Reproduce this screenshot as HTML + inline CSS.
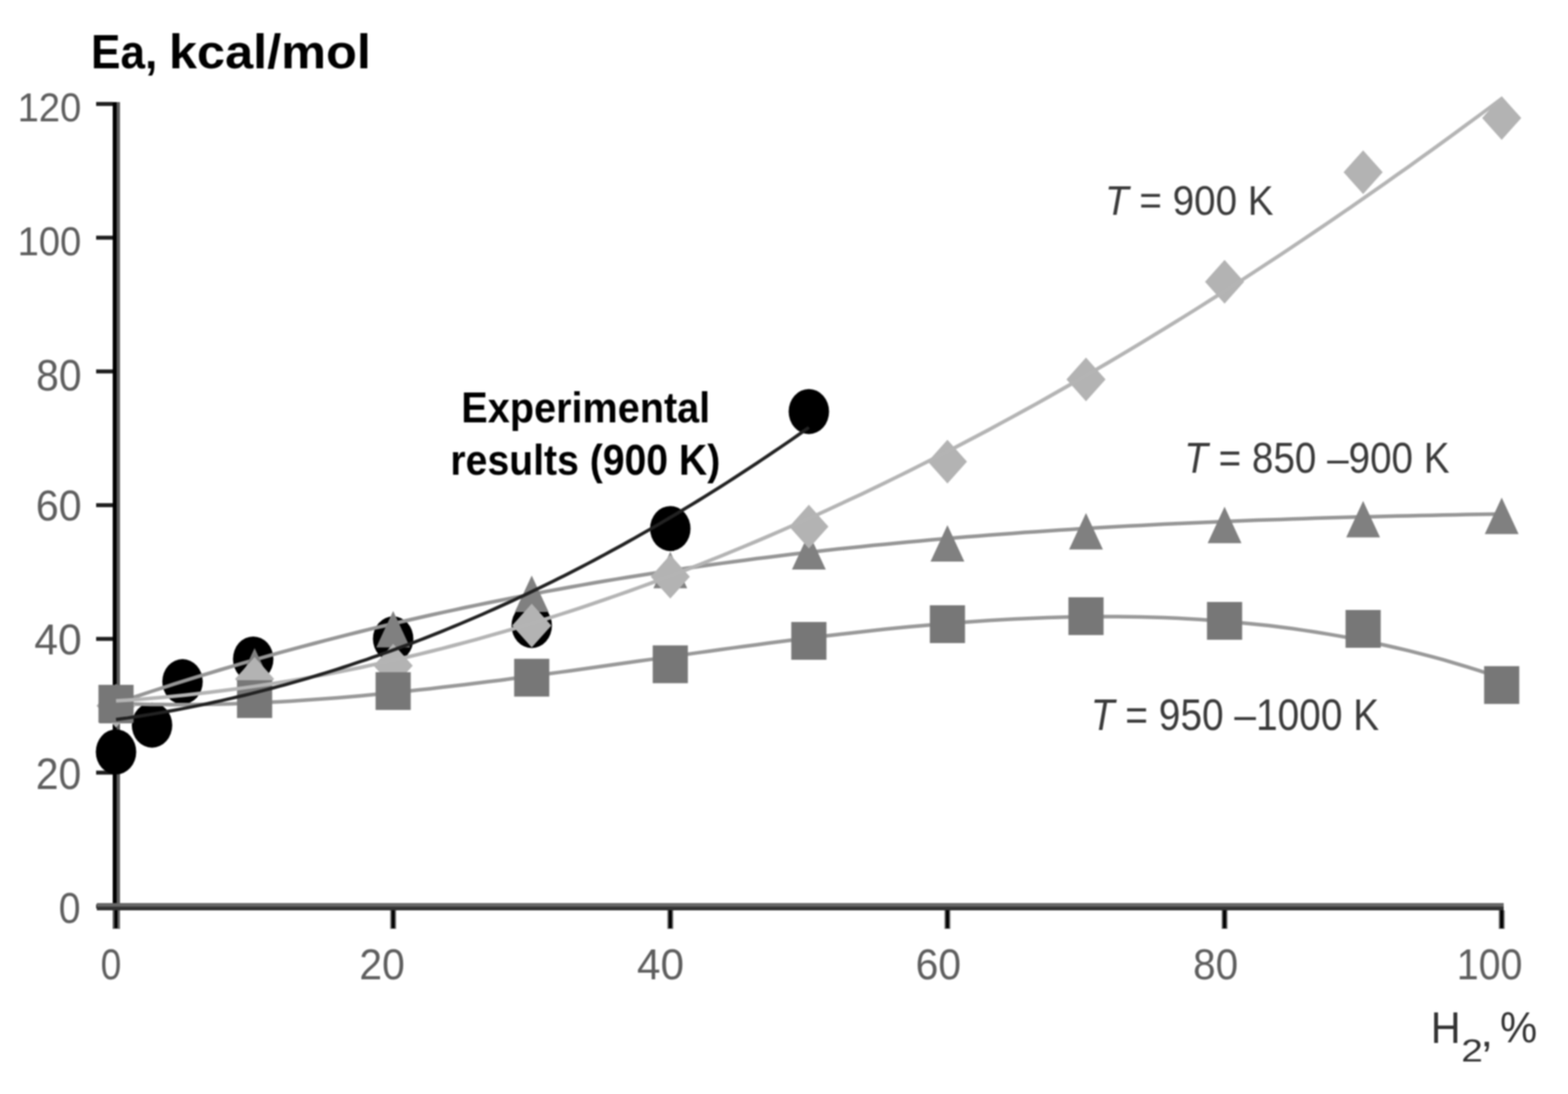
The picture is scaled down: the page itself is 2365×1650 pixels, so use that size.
<!DOCTYPE html>
<html><head><meta charset="utf-8"><title>Ea vs H2</title>
<style>html,body{margin:0;padding:0;background:#fff;} svg{display:block;filter:blur(1.2px);}</style></head>
<body><svg width="2365" height="1650" viewBox="0 0 2365 1650">
<rect width="2365" height="1650" fill="#fff"/>
<rect x="176" y="154" width="5" height="1247" fill="#5c5c5c"/>
<rect x="170" y="154" width="6" height="1247" fill="#000"/>
<rect x="145" y="1364.0" width="25" height="6" fill="#1e1e1e"/>
<rect x="145" y="1162.3" width="25" height="6" fill="#1e1e1e"/>
<rect x="145" y="960.6" width="25" height="6" fill="#1e1e1e"/>
<rect x="145" y="758.9" width="25" height="6" fill="#1e1e1e"/>
<rect x="145" y="557.2" width="25" height="6" fill="#1e1e1e"/>
<rect x="145" y="355.5" width="25" height="6" fill="#1e1e1e"/>
<rect x="145" y="153.8" width="25" height="6" fill="#1e1e1e"/>
<rect x="146" y="1362" width="2122" height="6" fill="#666"/>
<rect x="146" y="1367.5" width="2122" height="5.5" fill="#333"/>
<rect x="170.5" y="1373" width="9" height="28" fill="#777"/>
<rect x="172.5" y="1373" width="5" height="27" fill="#000"/>
<rect x="588.5" y="1373" width="9" height="28" fill="#777"/>
<rect x="590.5" y="1373" width="5" height="27" fill="#000"/>
<rect x="1006.5" y="1373" width="9" height="28" fill="#777"/>
<rect x="1008.5" y="1373" width="5" height="27" fill="#000"/>
<rect x="1424.5" y="1373" width="9" height="28" fill="#777"/>
<rect x="1426.5" y="1373" width="5" height="27" fill="#000"/>
<rect x="1842.5" y="1373" width="9" height="28" fill="#777"/>
<rect x="1844.5" y="1373" width="5" height="27" fill="#000"/>
<rect x="2260.5" y="1373" width="9" height="28" fill="#777"/>
<rect x="2262.5" y="1373" width="5" height="27" fill="#000"/>
<ellipse cx="175.0" cy="1134.0" rx="30.5" ry="34" fill="#000"/>
<ellipse cx="229.3" cy="1093.7" rx="30.5" ry="34" fill="#000"/>
<ellipse cx="275.3" cy="1028.1" rx="30.5" ry="34" fill="#000"/>
<ellipse cx="381.9" cy="993.9" rx="30.5" ry="34" fill="#000"/>
<ellipse cx="593.0" cy="963.6" rx="30.5" ry="34" fill="#000"/>
<ellipse cx="802.0" cy="943.4" rx="30.5" ry="34" fill="#000"/>
<ellipse cx="1011.0" cy="797.2" rx="30.5" ry="34" fill="#000"/>
<ellipse cx="1220.0" cy="620.7" rx="30.5" ry="34" fill="#000"/>
<polyline points="175.0,1060.9 192.6,1061.5 210.1,1062.0 227.7,1062.4 245.3,1062.6 262.8,1062.7 280.4,1062.7 297.9,1062.6 315.5,1062.3 333.1,1061.9 350.6,1061.4 368.2,1060.8 385.8,1060.1 403.3,1059.3 420.9,1058.4 438.4,1057.4 456.0,1056.3 473.6,1055.0 491.1,1053.8 508.7,1052.4 526.3,1050.9 543.8,1049.4 561.4,1047.8 578.9,1046.1 596.5,1044.3 614.1,1042.5 631.6,1040.6 649.2,1038.7 666.8,1036.6 684.3,1034.6 701.9,1032.5 719.5,1030.3 737.0,1028.1 754.6,1025.9 772.1,1023.6 789.7,1021.3 807.3,1018.9 824.8,1016.5 842.4,1014.1 860.0,1011.7 877.5,1009.3 895.1,1006.8 912.6,1004.3 930.2,1001.8 947.8,999.3 965.3,996.8 982.9,994.4 1000.5,991.9 1018.0,989.4 1035.6,986.9 1053.2,984.4 1070.7,982.0 1088.3,979.5 1105.8,977.1 1123.4,974.7 1141.0,972.4 1158.5,970.0 1176.1,967.7 1193.7,965.5 1211.2,963.3 1228.8,961.1 1246.3,959.0 1263.9,956.9 1281.5,954.9 1299.0,952.9 1316.6,951.0 1334.2,949.1 1351.7,947.3 1369.3,945.6 1386.8,944.0 1404.4,942.4 1422.0,940.9 1439.5,939.5 1457.1,938.2 1474.7,937.0 1492.2,935.8 1509.8,934.8 1527.4,933.8 1544.9,932.9 1562.5,932.2 1580.0,931.5 1597.6,931.0 1615.2,930.6 1632.7,930.3 1650.3,930.1 1667.9,930.0 1685.4,930.1 1703.0,930.3 1720.5,930.6 1738.1,931.0 1755.7,931.6 1773.2,932.3 1790.8,933.2 1808.4,934.2 1825.9,935.4 1843.5,936.7 1861.1,938.2 1878.6,939.9 1896.2,941.7 1913.7,943.6 1931.3,945.8 1948.9,948.1 1966.4,950.6 1984.0,953.2 2001.6,956.1 2019.1,959.1 2036.7,962.3 2054.2,965.8 2071.8,969.4 2089.4,973.2 2106.9,977.2 2124.5,981.4 2142.1,985.8 2159.6,990.4 2177.2,995.2 2194.7,1000.3 2212.3,1005.6 2229.9,1011.1 2247.4,1016.8 2265.0,1022.7" fill="none" stroke="#999" stroke-width="5.5"/>
<polyline points="175.0,1060.7 192.6,1054.7 210.1,1048.8 227.7,1043.0 245.3,1037.3 262.8,1031.7 280.4,1026.2 297.9,1020.7 315.5,1015.3 333.1,1010.0 350.6,1004.8 368.2,999.7 385.8,994.6 403.3,989.6 420.9,984.7 438.4,979.9 456.0,975.1 473.6,970.5 491.1,965.9 508.7,961.4 526.3,956.9 543.8,952.5 561.4,948.2 578.9,944.0 596.5,939.8 614.1,935.7 631.6,931.7 649.2,927.8 666.8,923.9 684.3,920.1 701.9,916.3 719.5,912.6 737.0,909.0 754.6,905.5 772.1,902.0 789.7,898.6 807.3,895.2 824.8,891.9 842.4,888.7 860.0,885.5 877.5,882.4 895.1,879.3 912.6,876.3 930.2,873.4 947.8,870.5 965.3,867.7 982.9,865.0 1000.5,862.3 1018.0,859.6 1035.6,857.0 1053.2,854.5 1070.7,852.0 1088.3,849.6 1105.8,847.2 1123.4,844.9 1141.0,842.6 1158.5,840.4 1176.1,838.2 1193.7,836.1 1211.2,834.0 1228.8,832.0 1246.3,830.0 1263.9,828.1 1281.5,826.2 1299.0,824.4 1316.6,822.6 1334.2,820.9 1351.7,819.2 1369.3,817.5 1386.8,815.9 1404.4,814.3 1422.0,812.8 1439.5,811.3 1457.1,809.8 1474.7,808.4 1492.2,807.0 1509.8,805.7 1527.4,804.4 1544.9,803.1 1562.5,801.9 1580.0,800.7 1597.6,799.5 1615.2,798.4 1632.7,797.3 1650.3,796.3 1667.9,795.3 1685.4,794.3 1703.0,793.3 1720.5,792.4 1738.1,791.5 1755.7,790.6 1773.2,789.8 1790.8,788.9 1808.4,788.2 1825.9,787.4 1843.5,786.7 1861.1,786.0 1878.6,785.3 1896.2,784.6 1913.7,784.0 1931.3,783.4 1948.9,782.8 1966.4,782.2 1984.0,781.6 2001.6,781.1 2019.1,780.6 2036.7,780.1 2054.2,779.6 2071.8,779.2 2089.4,778.7 2106.9,778.3 2124.5,777.9 2142.1,777.5 2159.6,777.2 2177.2,776.8 2194.7,776.4 2212.3,776.1 2229.9,775.8 2247.4,775.5 2265.0,775.2" fill="none" stroke="#969696" stroke-width="5.5"/>
<polygon points="175.0,1036.0 200.5,1091.0 149.5,1091.0" fill="#808080"/>
<polygon points="384.0,977.5 409.5,1032.5 358.5,1032.5" fill="#808080"/>
<polygon points="593.0,921.5 618.5,976.5 567.5,976.5" fill="#808080"/>
<polygon points="802.0,868.0 827.5,923.0 776.5,923.0" fill="#808080"/>
<polygon points="1011.0,832.2 1036.5,887.2 985.5,887.2" fill="#808080"/>
<polygon points="1220.0,804.0 1245.5,859.0 1194.5,859.0" fill="#808080"/>
<polygon points="1429.0,791.9 1454.5,846.9 1403.5,846.9" fill="#808080"/>
<polygon points="1638.0,773.7 1663.5,828.7 1612.5,828.7" fill="#808080"/>
<polygon points="1847.0,764.2 1872.5,819.2 1821.5,819.2" fill="#808080"/>
<polygon points="2056.0,755.6 2081.5,810.6 2030.5,810.6" fill="#808080"/>
<polygon points="2265.0,750.5 2290.5,805.5 2239.5,805.5" fill="#808080"/>
<polygon points="175.0,1031.5 204.5,1064.5 175.0,1097.5 145.5,1064.5" fill="#b3b3b3"/>
<polygon points="384.0,991.1 413.5,1024.1 384.0,1057.1 354.5,1024.1" fill="#b3b3b3"/>
<polygon points="593.0,970.9 622.5,1003.9 593.0,1036.9 563.5,1003.9" fill="#b3b3b3"/>
<polygon points="802.0,910.4 831.5,943.4 802.0,976.4 772.5,943.4" fill="#b3b3b3"/>
<polygon points="1011.0,836.8 1040.5,869.8 1011.0,902.8 981.5,869.8" fill="#b3b3b3"/>
<polygon points="1220.0,761.2 1249.5,794.2 1220.0,827.2 1190.5,794.2" fill="#b3b3b3"/>
<polygon points="1429.0,663.3 1458.5,696.3 1429.0,729.3 1399.5,696.3" fill="#b3b3b3"/>
<polygon points="1638.0,539.3 1667.5,572.3 1638.0,605.3 1608.5,572.3" fill="#b3b3b3"/>
<polygon points="1847.0,392.1 1876.5,425.1 1847.0,458.1 1817.5,425.1" fill="#b3b3b3"/>
<polygon points="2056.0,226.7 2085.5,259.7 2056.0,292.7 2026.5,259.7" fill="#b3b3b3"/>
<polygon points="2265.0,145.0 2294.5,178.0 2265.0,211.0 2235.5,178.0" fill="#b3b3b3"/>
<rect x="148.5" y="1032.9" width="53" height="57" fill="#777"/>
<rect x="357.5" y="1025.9" width="53" height="57" fill="#777"/>
<rect x="566.5" y="1013.8" width="53" height="57" fill="#777"/>
<rect x="775.5" y="993.6" width="53" height="57" fill="#777"/>
<rect x="984.5" y="973.4" width="53" height="57" fill="#777"/>
<rect x="1193.5" y="938.1" width="53" height="57" fill="#777"/>
<rect x="1402.5" y="912.9" width="53" height="57" fill="#777"/>
<rect x="1611.5" y="900.8" width="53" height="57" fill="#777"/>
<rect x="1820.5" y="907.9" width="53" height="57" fill="#777"/>
<rect x="2029.5" y="920.0" width="53" height="57" fill="#777"/>
<rect x="2238.5" y="1004.7" width="53" height="57" fill="#777"/>
<polyline points="175.0,1057.1 192.6,1055.9 210.1,1054.7 227.7,1053.2 245.3,1051.7 262.8,1050.0 280.4,1048.2 297.9,1046.3 315.5,1044.3 333.1,1042.1 350.6,1039.8 368.2,1037.4 385.8,1034.9 403.3,1032.2 420.9,1029.5 438.4,1026.6 456.0,1023.6 473.6,1020.4 491.1,1017.2 508.7,1013.8 526.3,1010.3 543.8,1006.7 561.4,1002.9 578.9,999.1 596.5,995.1 614.1,991.0 631.6,986.8 649.2,982.5 666.8,978.1 684.3,973.5 701.9,968.9 719.5,964.1 737.0,959.2 754.6,954.2 772.1,949.1 789.7,943.9 807.3,938.5 824.8,933.1 842.4,927.5 860.0,921.8 877.5,916.1 895.1,910.2 912.6,904.2 930.2,898.0 947.8,891.8 965.3,885.5 982.9,879.1 1000.5,872.5 1018.0,865.9 1035.6,859.1 1053.2,852.3 1070.7,845.3 1088.3,838.2 1105.8,831.0 1123.4,823.8 1141.0,816.4 1158.5,808.9 1176.1,801.3 1193.7,793.6 1211.2,785.8 1228.8,777.9 1246.3,769.9 1263.9,761.8 1281.5,753.6 1299.0,745.4 1316.6,737.0 1334.2,728.5 1351.7,719.9 1369.3,711.2 1386.8,702.4 1404.4,693.5 1422.0,684.5 1439.5,675.5 1457.1,666.3 1474.7,657.0 1492.2,647.7 1509.8,638.2 1527.4,628.7 1544.9,619.0 1562.5,609.3 1580.0,599.5 1597.6,589.5 1615.2,579.5 1632.7,569.4 1650.3,559.2 1667.9,549.0 1685.4,538.6 1703.0,528.1 1720.5,517.6 1738.1,506.9 1755.7,496.2 1773.2,485.4 1790.8,474.5 1808.4,463.5 1825.9,452.4 1843.5,441.3 1861.1,430.0 1878.6,418.7 1896.2,407.3 1913.7,395.8 1931.3,384.2 1948.9,372.5 1966.4,360.8 1984.0,348.9 2001.6,337.0 2019.1,325.0 2036.7,312.9 2054.2,300.8 2071.8,288.6 2089.4,276.2 2106.9,263.8 2124.5,251.4 2142.1,238.8 2159.6,226.2 2177.2,213.5 2194.7,200.7 2212.3,187.8 2229.9,174.9 2247.4,161.9 2265.0,148.8" fill="none" stroke="#b4b4b4" stroke-width="5.5"/>
<polyline points="175.0,1085.3 183.8,1084.1 192.6,1082.9 201.3,1081.5 210.1,1080.2 218.9,1078.8 227.7,1077.4 236.5,1075.9 245.3,1074.4 254.0,1072.8 262.8,1071.2 271.6,1069.6 280.4,1067.9 289.2,1066.1 297.9,1064.4 306.7,1062.6 315.5,1060.7 324.3,1058.8 333.1,1056.9 341.8,1054.9 350.6,1052.9 359.4,1050.8 368.2,1048.7 377.0,1046.6 385.8,1044.4 394.5,1042.1 403.3,1039.9 412.1,1037.5 420.9,1035.2 429.7,1032.8 438.4,1030.3 447.2,1027.9 456.0,1025.3 464.8,1022.8 473.6,1020.1 482.4,1017.5 491.1,1014.8 499.9,1012.1 508.7,1009.3 517.5,1006.5 526.3,1003.6 535.0,1000.7 543.8,997.7 552.6,994.8 561.4,991.7 570.2,988.7 578.9,985.5 587.7,982.4 596.5,979.2 605.3,975.9 614.1,972.7 622.9,969.3 631.6,966.0 640.4,962.6 649.2,959.1 658.0,955.6 666.8,952.1 675.5,948.5 684.3,944.9 693.1,941.2 701.9,937.5 710.7,933.8 719.5,930.0 728.2,926.2 737.0,922.3 745.8,918.4 754.6,914.4 763.4,910.4 772.1,906.4 780.9,902.3 789.7,898.2 798.5,894.0 807.3,889.8 816.1,885.6 824.8,881.3 833.6,877.0 842.4,872.6 851.2,868.2 860.0,863.7 868.7,859.2 877.5,854.7 886.3,850.1 895.1,845.5 903.9,840.8 912.6,836.1 921.4,831.3 930.2,826.5 939.0,821.7 947.8,816.8 956.6,811.9 965.3,806.9 974.1,801.9 982.9,796.9 991.7,791.8 1000.5,786.7 1009.2,781.5 1018.0,776.3 1026.8,771.0 1035.6,765.7 1044.4,760.4 1053.2,755.0 1061.9,749.6 1070.7,744.1 1079.5,738.6 1088.3,733.1 1097.1,727.5 1105.8,721.8 1114.6,716.2 1123.4,710.4 1132.2,704.7 1141.0,698.9 1149.7,693.0 1158.5,687.1 1167.3,681.2 1176.1,675.2 1184.9,669.2 1193.7,663.2 1202.4,657.1 1211.2,650.9 1220.0,644.8" fill="none" stroke="#222" stroke-width="5"/>
<text transform="translate(137.34 103.00) scale(0.66544 0.72464)" font-family='"Liberation Sans", Arial, sans-serif' font-weight="bold" font-size="100" fill="#000">Ea,</text>
<text transform="translate(254.67 103.00) scale(0.76166 0.72685)" font-family='"Liberation Sans", Arial, sans-serif' font-weight="bold" font-size="100" fill="#000">kcal/mol</text>
<text transform="translate(695.82 637.00) scale(0.59772 0.65217)" font-family='"Liberation Sans", Arial, sans-serif' font-weight="bold" font-size="100" fill="#000">Experimental</text>
<text transform="translate(679.36 715.60) scale(0.59084 0.64638)" font-family='"Liberation Sans", Arial, sans-serif' font-weight="bold" font-size="100" fill="#000">results (900 K)</text>
<text transform="translate(1666.76 323.50) scale(0.58216 0.63768)" font-family='"Liberation Sans", Arial, sans-serif' font-weight="normal" font-size="100" fill="#3a3a3a"><tspan font-style="italic">T</tspan> = 900 K</text>
<text transform="translate(1786.25 712.50) scale(0.58284 0.65217)" font-family='"Liberation Sans", Arial, sans-serif' font-weight="normal" font-size="100" fill="#3a3a3a"><tspan font-style="italic">T</tspan> = 850 –900 K</text>
<text transform="translate(1645.23 1100.50) scale(0.58607 0.66667)" font-family='"Liberation Sans", Arial, sans-serif' font-weight="normal" font-size="100" fill="#3a3a3a"><tspan font-style="italic">T</tspan> = 950 –1000 K</text>
<text transform="translate(2158.00 1573.00) scale(0.62500 0.66667)" font-family='"Liberation Sans", Arial, sans-serif' font-weight="normal" font-size="100" fill="#333">H</text>
<text transform="translate(2262.48 1572.34) scale(0.62963 0.65714)" font-family='"Liberation Sans", Arial, sans-serif' font-weight="normal" font-size="100" fill="#333">%</text>
<text transform="translate(2204.07 1601.00) scale(0.58696 0.48571)" font-family='"Liberation Sans", Arial, sans-serif' font-weight="normal" font-size="100" fill="#333">2</text>
<text transform="translate(2232.70 1577.88) scale(0.70000 0.62500)" font-family='"Liberation Sans", Arial, sans-serif' font-weight="normal" font-size="100" fill="#333">,</text>
<text transform="translate(26.38 183.38) scale(0.57742 0.61972)" font-family='"Liberation Sans", Arial, sans-serif' font-weight="normal" font-size="100" fill="#5e5e5e">120</text>
<text transform="translate(26.38 385.38) scale(0.57742 0.61972)" font-family='"Liberation Sans", Arial, sans-serif' font-weight="normal" font-size="100" fill="#5e5e5e">100</text>
<text transform="translate(54.53 589.34) scale(0.61650 0.66197)" font-family='"Liberation Sans", Arial, sans-serif' font-weight="normal" font-size="100" fill="#5e5e5e">80</text>
<text transform="translate(53.89 785.35) scale(0.62255 0.64789)" font-family='"Liberation Sans", Arial, sans-serif' font-weight="normal" font-size="100" fill="#5e5e5e">60</text>
<text transform="translate(51.71 987.35) scale(0.64286 0.64789)" font-family='"Liberation Sans", Arial, sans-serif' font-weight="normal" font-size="100" fill="#5e5e5e">40</text>
<text transform="translate(53.91 1190.34) scale(0.61765 0.66197)" font-family='"Liberation Sans", Arial, sans-serif' font-weight="normal" font-size="100" fill="#5e5e5e">20</text>
<text transform="translate(88.62 1392.35) scale(0.59375 0.64789)" font-family='"Liberation Sans", Arial, sans-serif' font-weight="normal" font-size="100" fill="#5e5e5e">0</text>
<text transform="translate(151.75 1477.35) scale(0.56250 0.64789)" font-family='"Liberation Sans", Arial, sans-serif' font-weight="normal" font-size="100" fill="#5e5e5e">0</text>
<text transform="translate(541.91 1477.35) scale(0.61765 0.64789)" font-family='"Liberation Sans", Arial, sans-serif' font-weight="normal" font-size="100" fill="#5e5e5e">20</text>
<text transform="translate(960.72 1477.35) scale(0.63810 0.64789)" font-family='"Liberation Sans", Arial, sans-serif' font-weight="normal" font-size="100" fill="#5e5e5e">40</text>
<text transform="translate(1380.91 1477.35) scale(0.61765 0.64789)" font-family='"Liberation Sans", Arial, sans-serif' font-weight="normal" font-size="100" fill="#5e5e5e">60</text>
<text transform="translate(1799.55 1477.35) scale(0.61165 0.64789)" font-family='"Liberation Sans", Arial, sans-serif' font-weight="normal" font-size="100" fill="#5e5e5e">80</text>
<text transform="translate(2197.25 1477.35) scale(0.59355 0.64789)" font-family='"Liberation Sans", Arial, sans-serif' font-weight="normal" font-size="100" fill="#5e5e5e">100</text>
</svg></body></html>
